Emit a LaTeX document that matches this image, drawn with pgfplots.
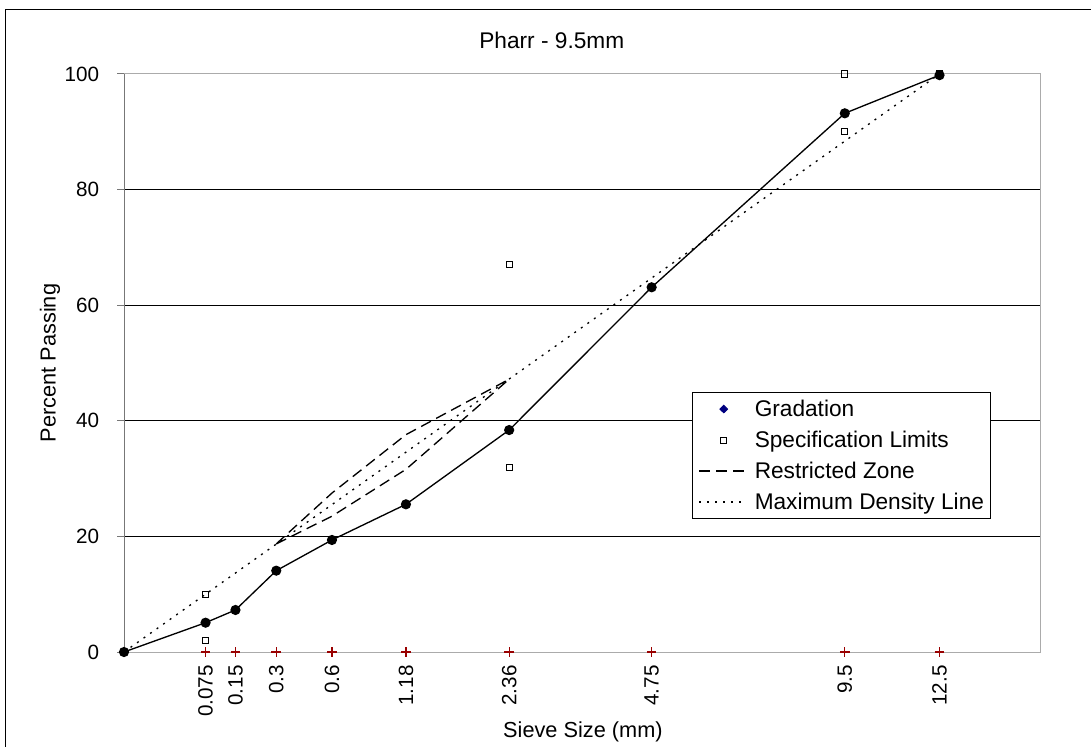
\documentclass[border=0pt]{standalone}
\usepackage{fontspec}
\setmainfont{Liberation Sans}
\usepackage{pgfplots}
\pgfplotsset{compat=1.18}
\definecolor{boxgray}{HTML}{ABABAB}
\definecolor{axisdark}{HTML}{777777}
\definecolor{gradblue}{HTML}{000080}
\definecolor{plusred}{HTML}{990000}
\newcommand\fs{\fontsize{16.3}{19.5}\selectfont}
\newcommand\fl{\fontsize{17}{20}\selectfont}
\newcommand\ft{\fontsize{15.5}{18.5}\selectfont}
\pgfplotsset{
 markleg/.style={legend image code/.code={\draw[##1] plot coordinates {(18.5pt,0pt)};}},
 lineleg/.style={legend image code/.code={\draw[##1] (0pt,0pt) -- (33.75pt,0pt);}},
}

\begin{document}
\begin{tikzpicture}
\useasboundingbox (0,0) rectangle (818.25pt,559.5pt);
\draw[black, line width=1pt] (4.35pt,-10pt) -- (4.35pt,552.4pt) -- (840pt,552.4pt);
\begin{axis}[
 at={(93pt,70.5pt)}, anchor=south west,
 scale only axis, width=687pt, height=433.5pt,
 xmin=0, xmax=3.5, ymin=0, ymax=100,
 clip=false,
 axis line style={draw=boxgray, line width=0.75pt},
 ytick={20,40,60,80},
 extra y ticks={0,100},
 extra y tick style={grid=none},
 ymajorgrids,
 major grid style={black, line width=0.75pt},
 ytick pos=left, ytick align=outside, major tick length=5pt,
 ytick style={draw=axisdark, line width=0.75pt},
 xtick={0.3117,0.4259,0.5817,0.7946,1.0773,1.4717,2.0161,2.7541,3.1161},
 xticklabels={0.075,0.15,0.3,0.6,1.18,2.36,4.75,9.5,12.5},
 xtick style={draw=none},
 tick label style={font=\ft},
 /pgf/number format/assume math mode=true,
 xticklabel style={rotate=90, anchor=east, inner sep=0pt},
 xticklabel shift=9.75pt,
 yticklabel style={inner sep=0pt},
 yticklabel shift=13.5pt,
 title={Pharr - 9.5mm},
 title style={font=\fl, at={(axis description cs:0.467,1.045)}, anchor=center, inner sep=0pt},
 xlabel={Sieve Size (mm)},
 xlabel style={font=\fs, at={(axis description cs:0.501,-0.1384)}, anchor=center, inner sep=0pt},
 ylabel={Percent Passing},
 ylabel style={font=\fs, at={(axis description cs:-0.0808,0.5)}, anchor=center, inner sep=0pt},
 legend cell align=left,
 legend style={at={(0.620,0.4498)}, anchor=north west, draw=black, line width=0.75pt, fill=white, font=\fl,
   inner xsep=4.5pt, inner ysep=4.9pt, row sep=8.25pt,
   nodes={inner sep=0pt, text height=13pt, text depth=2pt},
   /tikz/every odd column/.append style={column sep=7.5pt}},
]
\draw[axisdark, line width=0.75pt] (axis cs:0,0) -- (axis cs:0,100);

\addlegendimage{only marks, mark=diamond*, mark size=2.8pt, color=gradblue, mark options={xscale=1.35}, markleg}
\addlegendentry{Gradation}

\addplot[only marks, mark=square, mark size=2.3pt, line width=0.7pt, black, markleg]
  coordinates {(0.3117,2) (0.3117,10) (1.4717,32) (1.4717,67) (2.7541,90) (2.7541,100) (3.1161,100)};
\addlegendentry{Specification Limits}

\addplot[black, line width=1pt, dash pattern=on 8.25pt off 4.5pt, lineleg]
  coordinates {(0.5817,18.7) (0.7946,27.5) (1.0773,37.6) (1.4717,47.2)};
\addlegendentry{Restricted Zone}
\addplot[black, line width=1pt, dash pattern=on 8.25pt off 4.5pt, forget plot]
  coordinates {(0.5817,18.7) (0.7946,23.5) (1.0773,31.6) (1.4717,47.2)};

\addplot[black, line width=1pt, dash pattern=on 1.5pt off 4.5pt, lineleg]
  coordinates {(0,0) (3.1161,100)};
\addlegendentry{Maximum Density Line}

\addplot[black, line width=1pt, mark=*, mark size=3.3pt, forget plot]
  coordinates {(0,0) (0.3117,5.07) (0.4259,7.27) (0.5817,14.07) (0.7946,19.38) (1.0773,25.55) (1.4717,38.4) (2.0161,63.1) (2.7541,93.2) (3.1161,99.8)};

\addplot[only marks, mark=+, mark size=3.6pt, plusred, line width=1pt, forget plot]
  coordinates {(0.3117,0) (0.4259,0) (0.5817,0) (0.7946,0) (1.0773,0) (1.4717,0) (2.0161,0) (2.7541,0) (3.1161,0)};
\end{axis}
\end{tikzpicture}
\end{document}
